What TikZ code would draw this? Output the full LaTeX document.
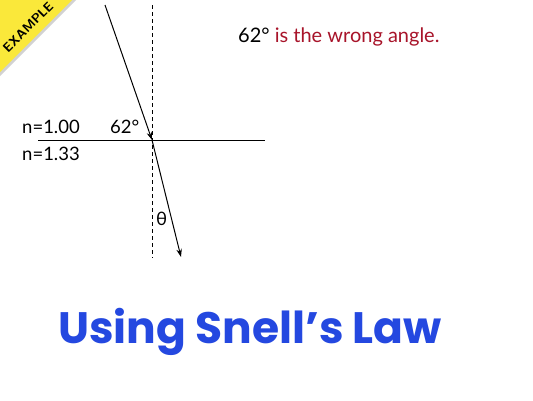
\documentclass[tikz,border=0pt]{standalone}
\usepackage{fontspec}
\setmainfont{Lato}
\newfontfamily\titlefont{Poppins}
\usetikzlibrary{arrows.meta}
\definecolor{wrongred}{HTML}{A8142A}
\definecolor{titleblue}{HTML}{2448E0}
\definecolor{bannerY}{HTML}{FAE83A}
\begin{document}
\begin{tikzpicture}[x=1pt,y=-1pt,
  lbl/.style={inner sep=0pt, font=\fontsize{18.5}{20}\selectfont},
  ray/.style={line width=1pt, draw=black},
  arrowtip/.style={-{Stealth[length=8pt,width=5.5pt]}}]
\useasboundingbox (0,0) rectangle (533,400);
\fill[white] (0,0) rectangle (533,400);
% banner
\fill[gray!35] (0,0) -- (76,0) -- (0,76) -- cycle;
\fill[bannerY] (0,0) -- (72,0) -- (0,72) -- cycle;
\node[rotate=45, font=\bfseries\sffamily\fontsize{13}{14}\selectfont, inner sep=0pt] (ex) at (28,27) {EXAMPLE};
% geometry
\coordinate (top) at (152,5);
\coordinate (bot) at (152,258);
\coordinate (hl) at (38,140);
\coordinate (hr) at (265,140);
\coordinate (o) at (152,140);
\coordinate (src) at (105,5);
\coordinate (dst) at (181,257);
\draw[line width=1pt, dash pattern=on 4pt off 3pt] (top) -- (bot);
\draw[ray] (hl) -- (hr);
\draw[ray, arrowtip] (src) -- (o);
\draw[ray, arrowtip] (o) -- (dst);
% labels
\node[lbl, anchor=base west] (n1) at (22,133) {n=1.00};
\node[lbl, anchor=base west] (a62) at (110,133) {62°};
\node[lbl, anchor=base west] (n2) at (22,160) {n=1.33};
\node[lbl, anchor=base west] (th) at (156,225) {θ};
\node[lbl, anchor=base west, font=\fontsize{20}{22}\selectfont] (note) at (238,42) {62° \textcolor{wrongred}{is the wrong angle.}};
\node[inner sep=0pt, text=titleblue, font=\titlefont\bfseries\fontsize{44}{50}\selectfont] (title) at (250,332) {Using Snell’s Law};
\end{tikzpicture}
\end{document}
